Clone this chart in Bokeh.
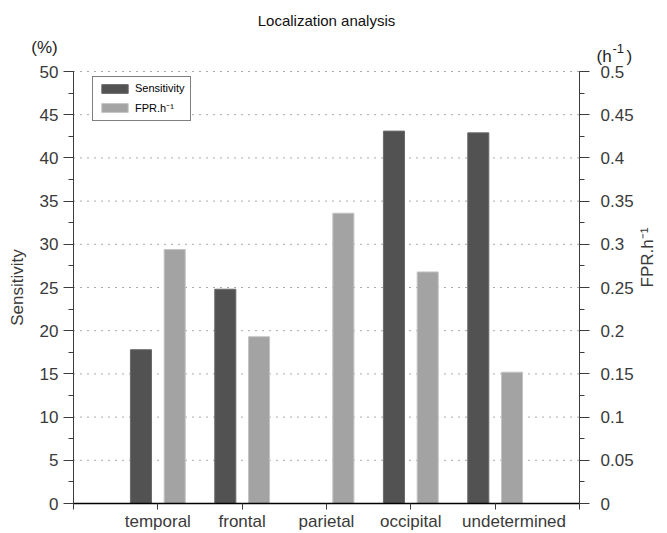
import math
from bokeh.plotting import figure
from bokeh.models import (Range1d, LinearAxis, SingleIntervalTicker, FixedTicker,
                          NumeralTickFormatter, ColumnDataSource, Label, Legend, LegendItem)
from bokeh.transform import dodge
from bokeh.embed import file_html
from bokeh.resources import INLINE

# Localisation results per brain region
regions = ["temporal", "frontal", "parietal", "occipital", "undetermined"]
sensitivity = [17.8, 24.8, 0.0, 43.1, 42.9]          # %
fpr_per_hour = [0.294, 0.193, 0.336, 0.268, 0.152]   # h^-1
sens_ticks = list(range(0, 55, 5))                   # left axis / grid levels
SENS_MAX = 50
FPR_MAX = 0.5

FONT = "Liberation Sans"
DARK = "#525252"
LIGHT = "#a3a3a3"
TXT = "#3a3a3a"

# canvas and axes box (pixels); the frame fills the canvas and the axes are
# pinned at fixed data locations so captions can sit outside the axes box
W, H = 667, 533
BOX_L, BOX_R, BOX_T, BOX_B = 73, 579, 71, 503
n = len(regions)
x_lo, x_hi = 0, n + 1
xs = (BOX_R - BOX_L) / (x_hi - x_lo)
ys = (BOX_B - BOX_T) / SENS_MAX
x_start, x_end = x_lo - BOX_L / xs, x_hi + (W - BOX_R) / xs
y_start, y_end = -(H - BOX_B) / ys, SENS_MAX + BOX_T / ys
k = FPR_MAX / SENS_MAX


def px_x(px):
    return x_start + px / xs


def px_y(py):
    return y_end - py / ys


pos = list(range(1, n + 1))
src = ColumnDataSource(dict(x=pos, sens=sensitivity, fpr=fpr_per_hour))

p = figure(width=W, height=H, output_backend="svg", toolbar_location=None,
           x_range=Range1d(x_start, x_end), y_range=Range1d(y_start, y_end),
           min_border=0, x_axis_location=None, y_axis_location=None)
p.outline_line_color = None
p.background_fill_color = "white"
p.border_fill_color = "white"
p.grid.visible = False
p.extra_y_ranges = {"fpr": Range1d(y_start * k, y_end * k)}

# dotted horizontal grid across the axes box, under the bars
p.segment(x0=x_lo, x1=x_hi, y0=sens_ticks, y1=sens_ticks,
          line_color="#555555", line_dash="1 6", line_width=1)

r_sens = p.vbar(x=dodge("x", -0.2, range=p.x_range), top="sens", width=0.25, source=src,
                fill_color=DARK, line_color="#6a6a6a", line_width=1)
r_fpr = p.vbar(x=dodge("x", 0.2, range=p.x_range), top="fpr", width=0.25, source=src,
               y_range_name="fpr", fill_color=LIGHT, line_color="#c4c4c4", line_width=1)


def style_axis(ax, color):
    ax.axis_line_color = color
    ax.major_tick_line_color = color
    ax.minor_tick_line_color = color
    ax.major_label_text_font = FONT
    ax.major_label_text_font_size = "17px"
    ax.major_label_text_color = TXT
    ax.axis_label_text_font = FONT
    ax.axis_label_text_font_size = "17px"
    ax.axis_label_text_font_style = "normal"
    ax.axis_label_text_color = TXT


# left axis: sensitivity
left = LinearAxis(ticker=SingleIntervalTicker(interval=5, num_minor_ticks=2),
                  axis_label="Sensitivity", fixed_location=x_lo, bounds=(0, SENS_MAX))
style_axis(left, "#3c3c3c")
left.major_tick_out = 10
left.major_tick_in = 0
left.minor_tick_out = 5
left.minor_tick_in = 0
left.major_label_standoff = 5
left.axis_label_standoff = 10
p.add_layout(left, "left")

# right axis: false positive rate
right = LinearAxis(y_range_name="fpr",
                   ticker=SingleIntervalTicker(interval=0.05, num_minor_ticks=2),
                   formatter=NumeralTickFormatter(format="0.[00]"),
                   axis_label="FPR.h\u207b\u00b9", fixed_location=x_hi, bounds=(0, FPR_MAX))
style_axis(right, "#3c3c3c")
right.major_tick_out = 10
right.major_tick_in = 0
right.minor_tick_out = 5
right.minor_tick_in = 0
right.major_label_standoff = 11
right.axis_label_standoff = 11
right.axis_label_orientation = math.pi / 2
p.add_layout(right, "right")

# bottom axis: region names at the category positions
bottom = LinearAxis(ticker=FixedTicker(ticks=[x_lo] + pos + [x_hi]),
                    fixed_location=0, bounds=(x_lo, x_hi))
overrides = {x_lo: "", x_hi: ""}
overrides.update({i: name for i, name in zip(pos, regions)})
overrides[pos[-1]] = "\u00a0" * 8 + regions[-1]
bottom.major_label_overrides = overrides
style_axis(bottom, "#000000")
bottom.axis_line_width = 1.5
bottom.major_tick_line_color = "#3c3c3c"
bottom.major_tick_out = 6
bottom.major_tick_in = 0
bottom.minor_tick_line_color = None
bottom.major_label_standoff = 2
p.add_layout(bottom, "below")


# title and unit captions
def add_text(px, py, text, size, align="left", baseline="alphabetic", color="#111111"):
    p.add_layout(Label(x=px_x(px), y=px_y(py), text=text,
                       text_font=FONT, text_font_size=size, text_color=color,
                       text_align=align, text_baseline=baseline))


add_text(326, 20, "Localization analysis", "15px", align="center", baseline="middle")
add_text(44, 47, "(%)", "17px", align="center", baseline="middle", color="#1e1e1e")
add_text(596, 56, "(h", "17px", color="#1e1e1e")
add_text(612, 48, "-1", "13px", color="#1e1e1e")
add_text(626, 56, ")", "17px", color="#1e1e1e")

legend = Legend(items=[LegendItem(label="Sensitivity", renderers=[r_sens]),
                       LegendItem(label="FPR.h\u207b\u00b9", renderers=[r_fpr])],
                location=(92, H - 121))
legend.border_line_color = "black"
legend.border_line_width = 1
legend.background_fill_color = "white"
legend.background_fill_alpha = 1
legend.padding = 5
legend.spacing = 6
legend.margin = 0
legend.glyph_width = 33
legend.glyph_height = 11
legend.label_height = 11
legend.label_standoff = 4
legend.label_text_font = FONT
legend.label_text_font_size = "11px"
legend.label_text_color = "black"
p.add_layout(legend, "center")

open("out.html", "w").write(file_html(p, INLINE))
